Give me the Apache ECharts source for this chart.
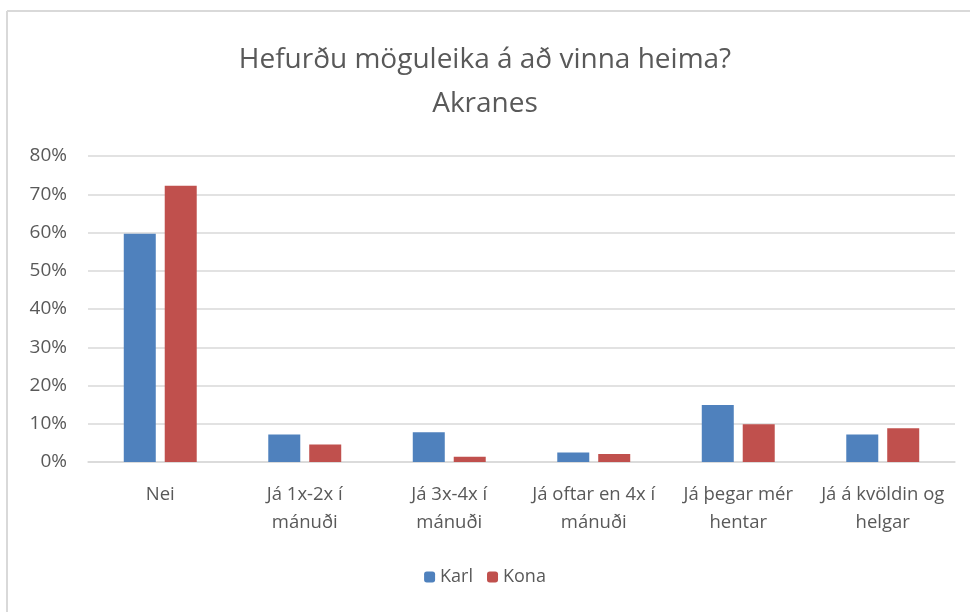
<!DOCTYPE html>
<html>
<head>
<meta charset="utf-8">
<title>Hefurðu möguleika á að vinna heima? Akranes</title>
<script src="https://cdn.jsdelivr.net/npm/echarts@6/dist/echarts.min.js"></script>
<style>
    html, body { margin: 0; padding: 0; background: #fff; }
    #main { width: 970px; height: 612px; }
</style>
</head>
<body>
<div id="main"></div>
<script>
    // flokkar og gildi (%)
    var categories = ['Nei', 'Já 1x-2x í\nmánuði', 'Já 3x-4x í\nmánuði', 'Já oftar en 4x í\nmánuði', 'Já þegar mér\nhentar', 'Já á kvöldin og\nhelgar'];
    var karl = [59.7, 7.2, 7.8, 2.5, 14.9, 7.2];
    var kona = [72.2, 4.6, 1.4, 2.1, 9.9, 8.8];

    var txt = '#595959';
    var font = 'Open Sans';

    var chart = echarts.init(document.getElementById('main'));
    var option = {
        animation: false,
        color: ['#4F81BD', '#C0504D'],
        title: {
            text: 'Hefurðu möguleika á að vinna heima?\nAkranes',
            left: 'center',
            top: 33,
            textStyle: { color: txt, fontFamily: font, fontSize: 28, fontWeight: 'normal', lineHeight: 44 }
        },
        legend: {
            bottom: 21,
            left: 'center',
            itemWidth: 11,
            itemHeight: 11,
            itemGap: 14,
            textStyle: { color: txt, fontFamily: font, fontSize: 18 },
            data: ['Karl', 'Kona']
        },
        grid: { left: 88, right: 15, top: 156, bottom: 150 },
        xAxis: {
            type: 'category',
            data: categories,
            axisTick: { show: false },
            axisLine: { lineStyle: { color: '#D9D9D9', width: 1.5 } },
            axisLabel: { color: txt, fontFamily: font, fontSize: 18.5, lineHeight: 28, margin: 19, interval: 0 }
        },
        yAxis: {
            type: 'value',
            min: 0,
            max: 80,
            interval: 10,
            axisLine: { show: false },
            axisTick: { show: false },
            splitLine: { lineStyle: { color: '#D9D9D9', width: 1.5 } },
            axisLabel: { color: txt, fontFamily: font, fontSize: 19, margin: 21, formatter: '{value}%' }
        },
        series: [
            { name: 'Karl', type: 'bar', data: karl, barWidth: 32, barGap: '28%' },
            { name: 'Kona', type: 'bar', data: kona, barWidth: 32 }
        ],
        graphic: [
            { type: 'line', shape: { x1: 7, y1: 11, x2: 7, y2: 612 }, style: { stroke: '#D9D9D9', lineWidth: 2 } },
            { type: 'line', shape: { x1: 7, y1: 11, x2: 970, y2: 11 }, style: { stroke: '#D9D9D9', lineWidth: 2 } }
        ]
    };
    chart.setOption(option);
</script>
</body>
</html>
